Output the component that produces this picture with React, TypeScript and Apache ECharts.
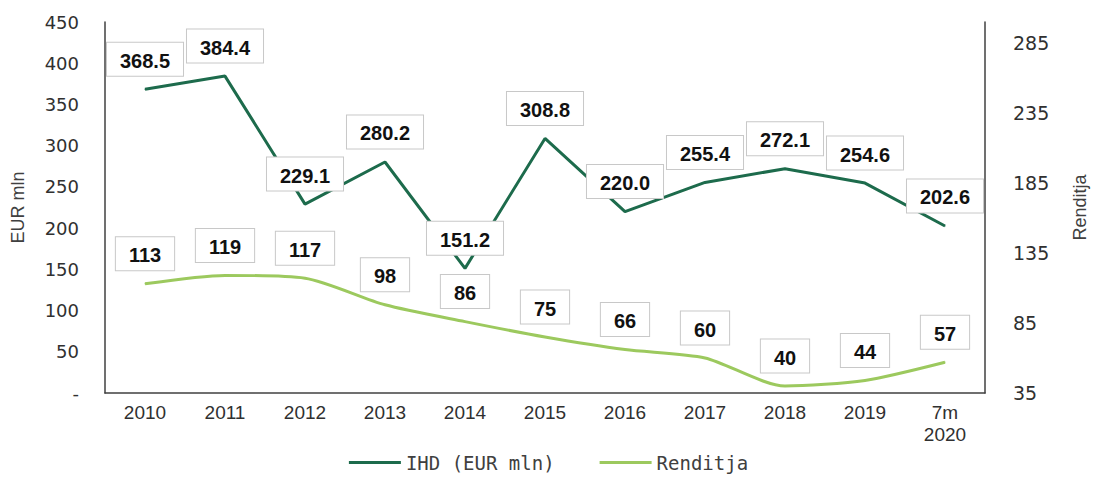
import React, { useEffect, useRef } from "react";
import * as echarts from "echarts";

const categories = ["2010", "2011", "2012", "2013", "2014", "2015", "2016", "2017", "2018", "2019", "7m\n2020"];
const ihdValues = [368.5, 384.4, 229.1, 280.2, 151.2, 308.8, 220.0, 255.4, 272.1, 254.6, 202.6];
const renditjaValues = [113, 119, 117, 98, 86, 75, 66, 60, 40, 44, 57];
const rightTickValues = [35, 85, 135, 185, 235, 285];

const IHD_COLOR = "#1d6b4c";
const REND_COLOR = "#9cc95e";

export default function App() {
  const ref = useRef<HTMLDivElement>(null);
  useEffect(() => {
    if (!ref.current) return;
    const chart = echarts.init(ref.current, null, { renderer: "svg" });
    const axisLine = { show: true, lineStyle: { color: "#404040", width: 1.5 } };
    const boxLabel = (fmt: (v: number) => string) => ({
      show: true,
      position: "top",
      distance: 13,
      formatter: (p: any) => fmt(p.value),
      color: "#111",
      fontFamily: "Liberation Sans",
      fontWeight: "bold",
      fontSize: 20,
      lineHeight: 22,
      backgroundColor: "#fff",
      borderColor: "#c8c8c8",
      borderWidth: 1,
      padding: [7, 13, 4, 13],
    });
    chart.setOption({
      animation: false,
      grid: { left: 105, right: 108, top: 22, bottom: 94 },
      legend: {
        bottom: 10,
        left: "center",
        icon: "rect",
        itemWidth: 52,
        itemHeight: 3,
        itemGap: 45,
        textStyle: { fontFamily: "DejaVu Sans Mono", fontSize: 19, color: "#404040" },
        data: ["IHD (EUR mln)", "Renditja"],
      },
      xAxis: {
        type: "category",
        data: categories,
        boundaryGap: true,
        axisLine,
        axisTick: { show: false },
        axisLabel: {
          color: "#303030",
          fontFamily: "Liberation Sans",
          fontSize: 19,
          margin: 8,
          lineHeight: 22,
        },
      },
      yAxis: [
        {
          type: "value",
          min: 0,
          max: 450,
          interval: 50,
          name: "EUR mln",
          nameLocation: "middle",
          nameGap: 78,
          nameTextStyle: { fontFamily: "Liberation Sans", fontSize: 18, color: "#404040" },
          axisLine,
          axisTick: { show: false },
          splitLine: { show: false },
          axisLabel: {
            margin: 26,
            color: "#303030",
            fontFamily: "DejaVu Sans",
            fontSize: 18,
            formatter: (v: number) => (v === 0 ? "-" : String(v)),
          },
        },
        {
          type: "value",
          min: 35,
          max: 300,
          position: "right",
          name: "Renditja",
          nameLocation: "middle",
          nameGap: 86,
          nameTextStyle: { fontFamily: "Liberation Sans", fontSize: 18, color: "#404040" },
          axisLine,
          axisTick: { show: false },
          splitLine: { show: false },
          axisLabel: {
            margin: 28,
            color: "#303030",
            fontFamily: "DejaVu Sans",
            fontSize: 19,
            customValues: rightTickValues,
          },
        },
      ],
      series: [
        {
          name: "IHD (EUR mln)",
          type: "line",
          yAxisIndex: 0,
          data: ihdValues,
          symbol: "circle",
          symbolSize: 1,
          lineStyle: { color: IHD_COLOR, width: 3 },
          itemStyle: { color: IHD_COLOR },
          label: boxLabel((v) => v.toFixed(1)),
          z: 3,
        },
        {
          name: "Renditja",
          type: "line",
          yAxisIndex: 1,
          data: renditjaValues,
          symbol: "circle",
          symbolSize: 1,
          smooth: 0.25,
          lineStyle: { color: REND_COLOR, width: 3 },
          itemStyle: { color: REND_COLOR },
          label: boxLabel((v) => String(v)),
          z: 2,
        },
      ],
    });
    return () => chart.dispose();
  }, []);
  return (
    <div
      ref={ref}
      style={{ position: "fixed", left: 0, top: 0, width: 1097, height: 487, background: "#fff" }}
    />
  );
}
